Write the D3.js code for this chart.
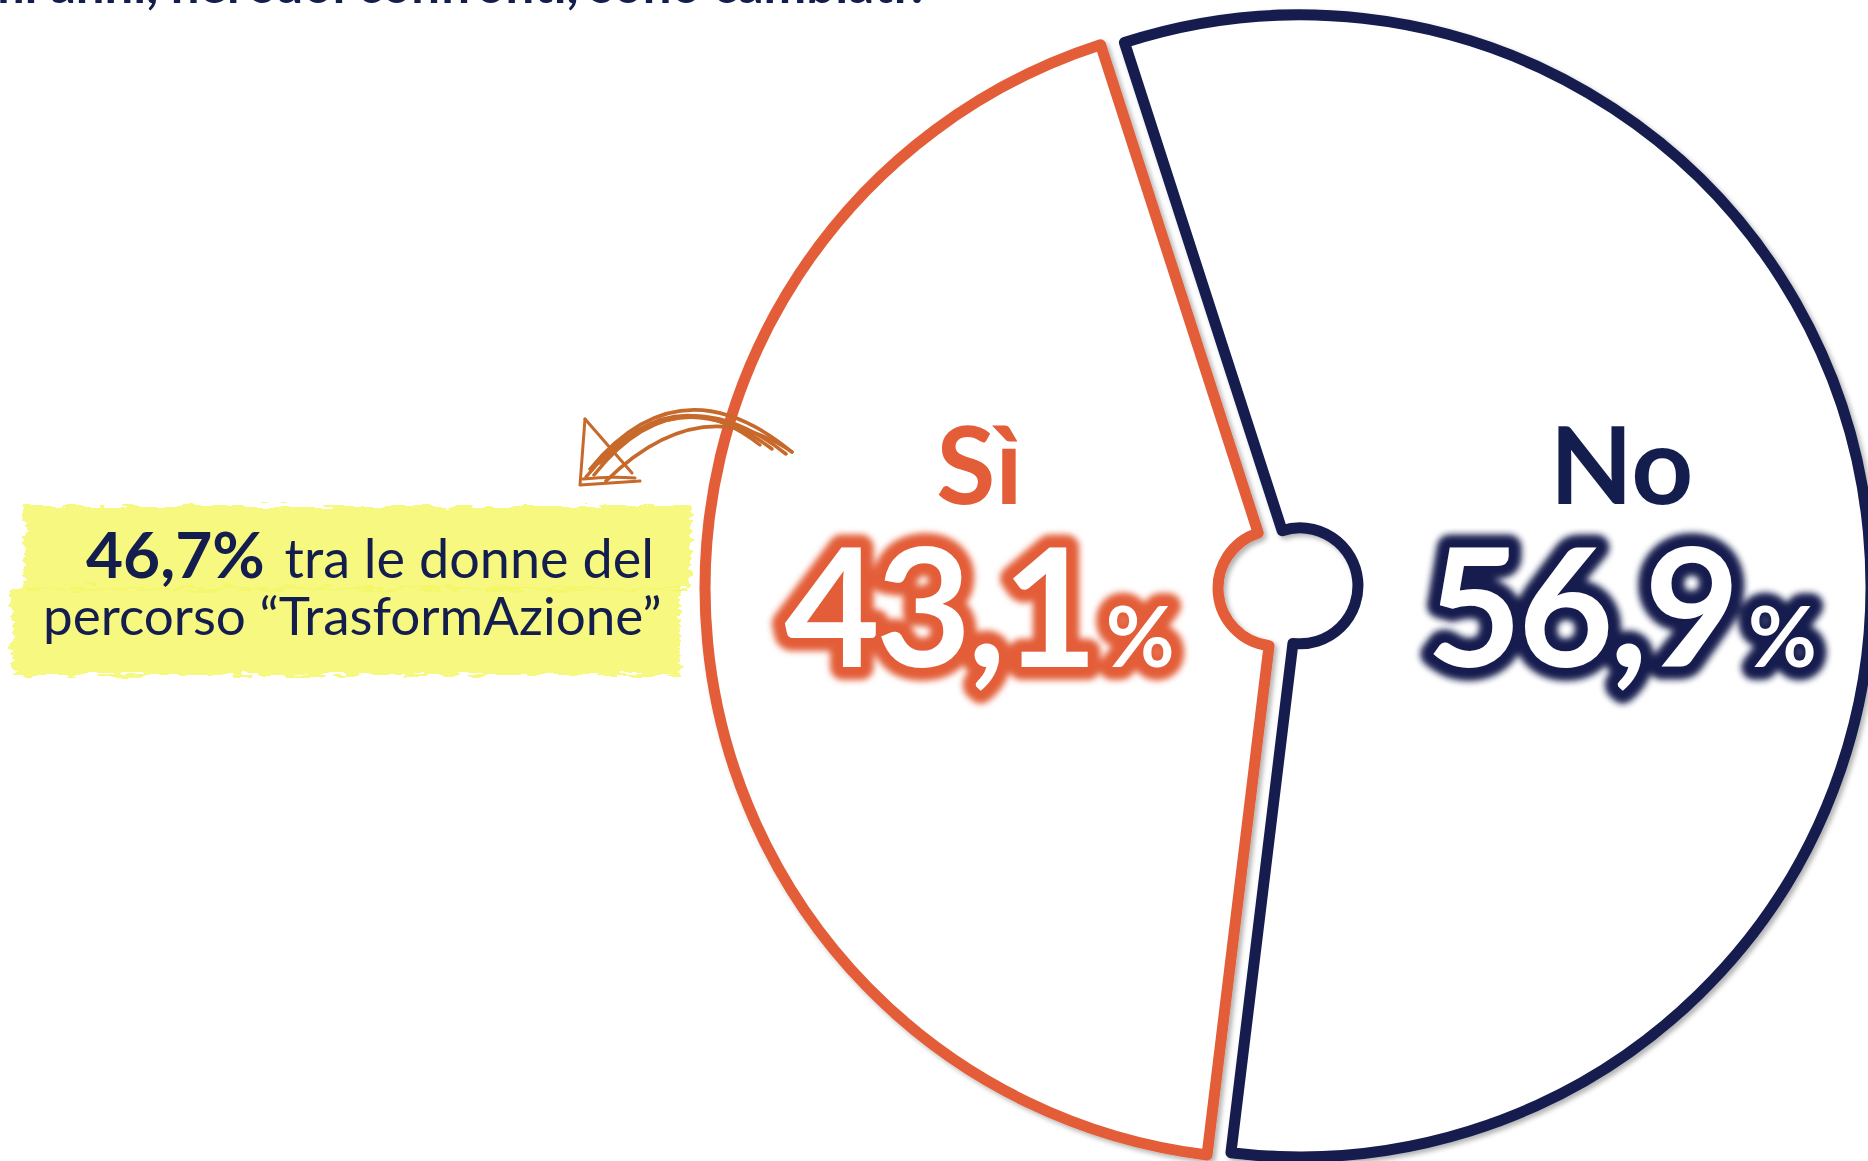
<!DOCTYPE html>
<html>
<head>
<meta charset="utf-8">
<script src="https://cdn.jsdelivr.net/npm/d3@7"></script>
<style>
	body { margin: 0; background: #fff; }
	svg { display: block; font-family: Lato, "Open Sans", sans-serif; }
</style>
</head>
<body>
<svg id="chart" width="1868" height="1161"></svg>
<script>
// data
var categories = ["No", "Sì"];
var values = [56.9, 43.1];
var colors = ["#141e4e", "#e35d38"];
var titleText = "Negli ultimi anni, nei suoi confronti, sono cambiati?";
var noteValue = 46.7;
var noteLines = ["tra le donne del", "percorso “TrasformAzione”"];

var width = 1868, height = 1161;
var svg = d3.select("#chart");
var navy = colors[0], arrowColor = "#c8692c";

var it = d3.formatLocale({decimal: ",", thousands: ".", grouping: [3], currency: ["", "€"]});
var fmt = it.format(".1f");
var color = d3.scaleOrdinal(categories, colors);

var defs = svg.append("defs");
var shadow = defs.append("filter").attr("id", "shadow")
	.attr("x", "-10%").attr("y", "-10%").attr("width", "120%").attr("height", "120%");
shadow.append("feDropShadow").attr("dx", 3).attr("dy", 3)
	.attr("stdDeviation", 2.5).attr("flood-color", "#000").attr("flood-opacity", 0.3);

var glow = defs.append("filter").attr("id", "glow")
	.attr("x", "-20%").attr("y", "-30%").attr("width", "140%").attr("height", "160%");
glow.append("feGaussianBlur").attr("stdDeviation", 3);

var rough = defs.append("filter").attr("id", "rough")
	.attr("x", "-5%").attr("y", "-20%").attr("width", "110%").attr("height", "140%");
rough.append("feTurbulence").attr("type", "fractalNoise")
	.attr("baseFrequency", "0.05 0.2").attr("numOctaves", 2).attr("seed", 4).attr("result", "noise");
rough.append("feDisplacementMap").attr("in", "SourceGraphic").attr("in2", "noise")
	.attr("scale", 14).attr("xChannelSelector", "R").attr("yChannelSelector", "G");

// title (cut off by the top edge, as in the source)
svg.append("text")
	.attr("x", 930).attr("y", 3)
	.attr("text-anchor", "end")
	.attr("font-size", 51).attr("font-weight", 700)
	.attr("fill", navy)
	.text(titleText);

// pie
var cx = 1288, cy = 587, R = 571, r0 = 58, explode = 12;
var labelR = {"No": 335, "Sì": 310};
var start = -17.9 * Math.PI / 180;

var pie = d3.pie().sort(null)
	.value(function(d){ return d.value; })
	.startAngle(start).endAngle(start + 2 * Math.PI);
var arc = d3.arc().innerRadius(r0).outerRadius(R);

var data = categories.map(function(c, i){ return {name: c, value: values[i]}; });
var arcs = pie(data);

var pieG = svg.append("g").attr("transform", "translate(" + cx + "," + cy + ")");

pieG.append("g").attr("filter", "url(#shadow)")
	.selectAll("path")
	.data(arcs)
	.enter().append("path")
		.attr("transform", function(d){
			var a = (d.startAngle + d.endAngle) / 2;
			return "translate(" + (Math.sin(a) * explode) + "," + (-Math.cos(a) * explode) + ")";
		})
		.attr("d", arc)
		.attr("fill", "#fff")
		.attr("stroke", function(d){ return color(d.data.name); })
		.attr("stroke-width", 11)
		.attr("stroke-linejoin", "round");

// labels
var labels = pieG.selectAll(".label")
	.data(arcs)
	.enter().append("g")
		.attr("class", "label")
		.attr("transform", function(d){
			var a = (d.startAngle + d.endAngle) / 2;
			return "translate(" + (Math.sin(a) * labelR[d.data.name]) + "," + (-cy) + ")";
		});

labels.append("text")
	.attr("y", 504)
	.attr("text-anchor", "middle")
	.attr("font-size", 108).attr("font-weight", 700)
	.attr("fill", function(d){ return color(d.data.name); })
	.text(function(d){ return d.data.name; });

function valueText(sel){
	var t = sel.append("text")
		.attr("y", 667)
		.attr("text-anchor", "middle")
		.attr("font-weight", 700);
	t.append("tspan").attr("font-size", 165).attr("letter-spacing", -4)
		.text(function(d){ return fmt(d.data.value); });
	t.append("tspan").attr("font-size", 84).attr("dx", 12).text("%");
	return t;
}
valueText(labels)
	.attr("fill", function(d){ return color(d.data.name); })
	.attr("stroke", function(d){ return color(d.data.name); })
	.attr("stroke-width", 26)
	.attr("stroke-linejoin", "round")
	.attr("filter", "url(#glow)");
valueText(labels).attr("fill", "#fff");

// annotation: highlighted note with arrow
var note = svg.append("g").attr("class", "note");
var bands = [
	{x: 24, y: 506, w: 667, h: 84},
	{x: 12, y: 587, w: 668, h: 88}
];
note.append("g").attr("filter", "url(#rough)")
	.selectAll("rect").data(bands).enter().append("rect")
		.attr("x", function(d){ return d.x; }).attr("y", function(d){ return d.y; })
		.attr("width", function(d){ return d.w; }).attr("height", function(d){ return d.h; })
		.attr("fill", "#f5f76a").attr("fill-opacity", 0.85);

var line1 = note.append("text").attr("x", 86).attr("y", 578).attr("fill", navy);
line1.append("tspan").attr("font-size", 64).attr("font-weight", 700).text(fmt(noteValue) + "%");
line1.append("tspan").attr("font-size", 54).attr("font-weight", 400).attr("dx", 6).text(" " + noteLines[0]);
note.append("text").attr("x", 43).attr("y", 635).attr("fill", navy)
	.attr("font-size", 53).attr("font-weight", 400).text(noteLines[1]);

// hand-drawn arrow, tip at the local origin
var arrow = note.append("g")
	.attr("transform", "translate(580,485)")
	.attr("fill", "none").attr("stroke", arrowColor)
	.attr("stroke-linecap", "round").attr("stroke-linejoin", "round");
var strokes = [
	"M212,-33 Q100,-125 10,-16",
	"M206,-31 Q98,-116 14,-10",
	"M192,-36 Q100,-106 20,-22",
	"M212,-33 Q120,-96 26,-4",
	"M180,-40 Q90,-112 6,-8",
	"M5,-66 L0,0 L60,-4",
	"M5,-66 L52,-12",
	"M3,-6 Q30,-9 55,-7"
];
arrow.selectAll("path").data(strokes).enter().append("path")
	.attr("d", function(d){ return d; })
	.attr("stroke-width", function(d, i){ return i < 5 ? 3.5 : 3; });
</script>
</body>
</html>
